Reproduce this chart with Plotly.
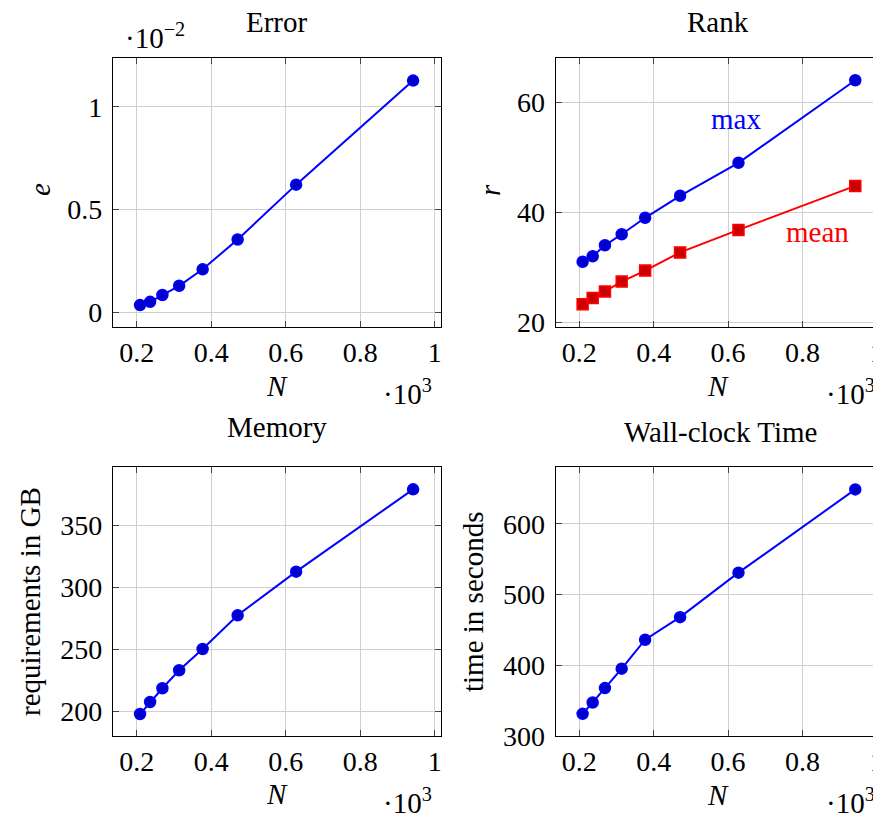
import plotly.graph_objects as go

# ---- data ----
N = [209, 236, 269, 314, 377, 471, 628, 942]
error = [0.00035, 0.00051, 0.00084, 0.00129, 0.00209, 0.00354, 0.00621, 0.01127]
rank_max = [31, 32, 34, 36, 39, 43, 49, 64]
rank_mean = [23.3, 24.4, 25.6, 27.4, 29.4, 32.7, 36.8, 44.8]
memory = [197.8, 207.5, 218.6, 233.1, 250.2, 277.4, 312.6, 379.0]
walltime = [331, 347, 367.5, 395, 436, 468, 531, 649]

x_ticks = [0.2, 0.4, 0.6, 0.8, 1.0]
x_ticktext = ["0.2", "0.4", "0.6", "0.8", "1"]
err_ticks = [0, 0.5, 1]
err_ticktext = ["0", "0.5", "1"]
rank_ticks = [20, 40, 60]
mem_ticks = [200, 250, 300, 350]
time_ticks = [300, 400, 500, 600]

xs = [n / 1000 for n in N]
err_scaled = [e * 100 for e in error]

FONT = "Liberation Serif, Times New Roman, DejaVu Serif, serif"
FS_TICK = 28
FS_TEXT = 29
BLUE = "#0000ff"
BLUE_FILL = "#0000cc"
RED = "#ff0000"
RED_FILL = "#cc0000"

W, H = 881, 814
OFF = 8  # page body margin


def px(x):
    return (x - OFF) / W


def py(y):
    return 1 - (y - OFF) / H


fig = go.Figure()


def series(x, y, xa, ya, color, fill, symbol):
    fig.add_trace(go.Scatter(
        x=x, y=y, xaxis=xa, yaxis=ya, mode="lines+markers",
        line=dict(color=color, width=2),
        marker=dict(symbol=symbol, size=11, color=fill, line=dict(color=color, width=1.5)),
        showlegend=False, hoverinfo="skip", cliponaxis=False))


series(xs, err_scaled, "x", "y", BLUE, BLUE_FILL, "circle")
series(xs, rank_max, "x2", "y2", BLUE, BLUE_FILL, "circle")
series(xs, rank_mean, "x2", "y2", RED, RED_FILL, "square")
series(xs, memory, "x3", "y3", BLUE, BLUE_FILL, "circle")
series(xs, walltime, "x4", "y4", BLUE, BLUE_FILL, "circle")

col1 = [px(113), px(441)]
col2 = [px(555.7), px(883.7)]
row1 = [py(327), py(58)]
row2 = [py(736), py(467)]

common = dict(
    showline=True, linecolor="black", linewidth=1.2, mirror="ticks",
    ticks="inside", ticklen=6, tickcolor="#444", tickwidth=1,
    showgrid=True, gridcolor="#cfcfcf", gridwidth=1, zeroline=False,
    tickfont=dict(family=FONT, size=FS_TICK, color="black"),
    fixedrange=True, automargin=False, ticklabeloverflow="allow",
)
ycommon = dict(common, ticklabelstandoff=4)

xr1 = [0.1364, 1.0169]
xr2 = [0.1366, 1.0184]

fig.update_layout(
    width=W, height=H,
    margin=dict(l=0, r=0, t=0, b=0, autoexpand=False),
    paper_bgcolor="white", plot_bgcolor="white",
    font=dict(family=FONT, size=FS_TEXT, color="black"),
    xaxis=dict(domain=col1, anchor="y", range=xr1, tickvals=x_ticks, ticktext=x_ticktext, **common),
    yaxis=dict(domain=row1, anchor="x", range=[-0.0715, 1.2369], tickvals=err_ticks, ticktext=err_ticktext, **ycommon),
    xaxis2=dict(domain=col2, anchor="y2", range=xr2, tickvals=x_ticks, ticktext=x_ticktext, **common),
    yaxis2=dict(domain=row1, anchor="x2", range=[19.145, 68.05], tickvals=rank_ticks, **ycommon),
    xaxis3=dict(domain=col1, anchor="y3", range=xr1, tickvals=x_ticks, ticktext=x_ticktext, **common),
    yaxis3=dict(domain=row2, anchor="x3", range=[180.08, 397.0], tickvals=mem_ticks, **ycommon),
    xaxis4=dict(domain=col2, anchor="y4", range=xr2, tickvals=x_ticks, ticktext=x_ticktext, **common),
    yaxis4=dict(domain=row2, anchor="x4", range=[299.6, 680.7], tickvals=time_ticks, **ycommon),
)


def ann(text, x, y, size=FS_TEXT, color="black", angle=0, xref="paper", yref="paper"):
    if xref == "paper":
        x = px(x)
    if yref == "paper":
        y = py(y)
    fig.add_annotation(text=text, x=x, y=y, xref=xref, yref=yref, showarrow=False,
                       font=dict(family=FONT, size=size, color=color), textangle=angle,
                       xanchor="center", yanchor="middle")


# titles
ann("Error", 277, 22)
ann("Rank", 718, 22)
ann("Memory", 277, 427)
ann("Wall-clock Time", 720, 432)

# axis labels
for (x, y) in [(277, 386), (718, 386), (277, 794), (718, 795)]:
    ann("<i>N</i>", x, y)
for (x, y) in [(407, 392), (850, 392), (407, 801), (850, 801)]:
    ann("·10<sup>3</sup>", x, y)
ann("·10<sup>−2</sup>", 155, 36)
ann("<i>e</i>", 40, 190, angle=-90)
ann("<i>r</i>", 490, 190, angle=-90)
ann("requirements in GB", 30, 602, angle=-90)
ann("time in seconds", 473, 602, angle=-90)

# series labels
ann("max", 0.621, 57, color=BLUE, xref="x2", yref="y2")
ann("mean", 0.841, 36.4, color=RED, xref="x2", yref="y2")

fig.write_html("out.html")
